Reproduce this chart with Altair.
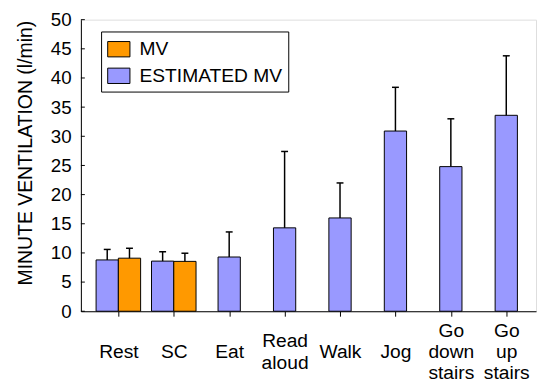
import json
import altair as alt
import pandas as pd

# ---- data ----
categories = ["Rest", "SC", "Eat", "Read\naloud", "Walk", "Jog",
              "Go\ndown\nstairs", "Go\nup\nstairs"]
est_mean = [8.8, 8.6, 9.3, 14.3, 16.0, 30.9, 24.8, 33.6]
est_sd = [1.8, 1.6, 4.3, 13.1, 6.0, 7.5, 8.2, 10.2]
mv_categories = ["Rest", "SC"]
mv_mean = [9.1, 8.55]
mv_sd = [1.7, 1.4]
series_names = ["MV", "ESTIMATED MV"]
series_colors = ["#FF9900", "#9999FF"]
y_ticks = list(range(0, 55, 5))

rows = []
for i, c in enumerate(categories):
    rows.append(dict(idx=i, series="ESTIMATED MV", mean=est_mean[i], sd=est_sd[i],
                     paired=c in mv_categories))
for c, m, s in zip(mv_categories, mv_mean, mv_sd):
    rows.append(dict(idx=categories.index(c), series="MV", mean=m, sd=s, paired=True))
df = pd.DataFrame(rows)
df["top"] = df["mean"] + df["sd"]
ticks_df = pd.DataFrame({"t": y_ticks})

FONT = "Liberation Sans"
BAR_W = 22.6
HALF = BAR_W / 2
LH = 21.5
PAD0 = 36

label_lines = [c.split("\n") for c in categories]
line_counts = [len(l) for l in label_lines]
lines_js = json.dumps(label_lines)
counts_js = json.dumps(line_counts)

label_padding = {
    "condition": [
        {"test": f"{counts_js}[datum.value] == 2", "value": PAD0 - LH / 2},
        {"test": f"{counts_js}[datum.value] == 3", "value": PAD0 - LH},
    ],
    "value": PAD0,
}

xscale = alt.Scale(domain=[-0.587, 7.448], nice=False, zero=False)
xaxis = alt.Axis(values=list(range(len(categories))), labelExpr=f"{lines_js}[datum.value]",
                 title=None, grid=False, tickSize=5, tickColor="black", domainColor="black",
                 labelPadding=label_padding, labelBaseline="middle", labelLineHeight=LH,
                 labelFontSize=19.5, labelAlign="center", labelFlush=False,
                 labelOverlap=False, labelColor="black", labelFont=FONT)
yscale = alt.Scale(domain=[0, 50], nice=False)
yaxis = alt.Axis(values=y_ticks, title="MINUTE VENTILATION (l/min)", grid=False,
                 ticks=False, labelPadding=10, labelFontSize=19, labelColor="black",
                 labelFont=FONT, domainColor="black", titleFont=FONT, titleFontSize=19.7,
                 titleFontWeight="normal", titleColor="black", titleAngle=270,
                 titleX=-56, titleY=135, titleAlign="center", titleBaseline="middle")


def X():
    return alt.X("idx:Q", scale=xscale, axis=xaxis)


def Y(field):
    return alt.Y(field, scale=yscale, axis=yaxis)


color = alt.Color(
    "series:N",
    scale=alt.Scale(domain=series_names, range=series_colors),
    legend=alt.Legend(title=None, orient="none", legendX=20.5, legendY=12,
                      symbolType="M-1,-0.69L1,-0.69L1,0.69L-1,0.69Z", symbolSize=510,
                      symbolStrokeColor="black", symbolStrokeWidth=1, symbolOpacity=1,
                      labelFontSize=19.5, labelFont=FONT, labelColor="black", labelOffset=9,
                      rowPadding=5, padding=6, strokeColor="black", fillColor="white",
                      labelLimit=400),
)

base = alt.Chart(df)
groups = [
    ("datum.series == 'ESTIMATED MV' && datum.paired", -HALF),
    ("datum.series == 'ESTIMATED MV' && !datum.paired", 0),
    ("datum.series == 'MV'", HALF),
]
layers = []
for flt, off in groups:
    sub = base.transform_filter(flt)
    layers.append(sub.mark_bar(width=BAR_W, stroke="black", strokeWidth=1, xOffset=off,
                               opacity=1).encode(x=X(), y=Y("mean:Q"), color=color))
for flt, off in groups:
    sub = base.transform_filter(flt)
    layers.append(sub.mark_rule(color="black", strokeWidth=1.5, xOffset=off).encode(
        x=X(), y=Y("mean:Q"), y2="top:Q"))
    layers.append(sub.mark_point(shape="M-1,0L1,0", size=49, stroke="black", strokeWidth=1.5,
                                 filled=False, opacity=1, xOffset=off).encode(
        x=X(), y=Y("top:Q")))

tick_layer = alt.Chart(ticks_df).mark_rule(color="black", strokeWidth=1).encode(
    x=alt.value(0), x2=alt.value(4), y=Y("t:Q"))
layers.append(tick_layer)

chart = alt.layer(*layers).properties(
    width=462, height=296,
    padding={"left": 74, "top": 9, "right": 1, "bottom": 70},
    autosize=alt.AutoSizeParams(type="none"),
).configure_view(stroke="black", strokeWidth=1).configure(background="white")

chart.save("out.html", embed_options={"renderer": "svg", "actions": False})
